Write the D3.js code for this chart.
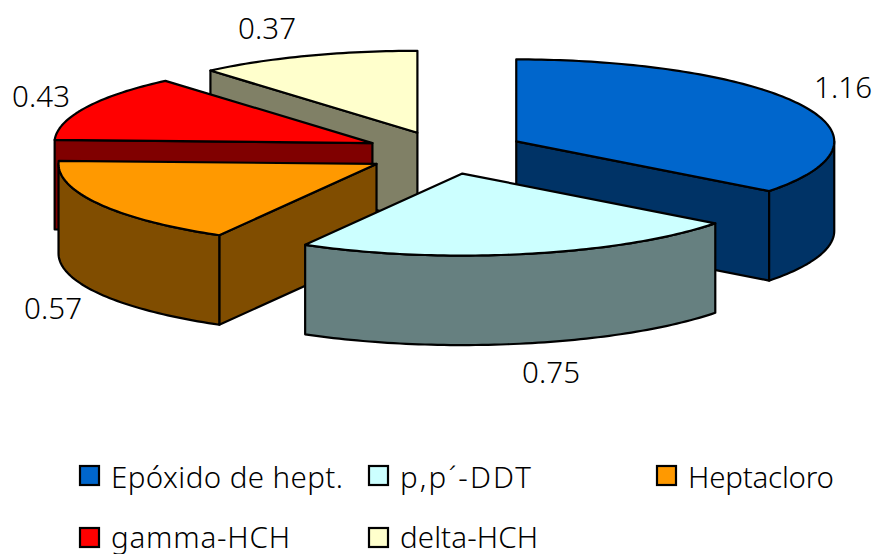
<!DOCTYPE html>
<html><head><meta charset="utf-8">
<script src="https://cdn.jsdelivr.net/npm/d3@7/dist/d3.min.js"></script>
<style>html,body{margin:0;padding:0;background:#fff;overflow:hidden}svg{display:block}
text{font-family:"Noto Sans","Liberation Sans",Arial,sans-serif;font-weight:300;fill:#000}</style></head>
<body><svg id="c" width="873" height="554"></svg>
<script>
const categories = ["Epóxido de hept.", "p,p´-DDT", "Heptacloro", "gamma-HCH", "delta-HCH"];
const values = [1.16, 0.75, 0.57, 0.43, 0.37];
const colors = ["#0066CC", "#CCFFFF", "#FF9900", "#FF0000", "#FFFFCC"];
const valueLabels = ["1.16", "0.75", "0.57", "0.43", "0.37"];

// layout
const W = 873, H = 554;
const cx = 445, cy = 152, rx = 318, ry = 82, depth = 89.5, explode = 0.25;
const nudge = [[0, -1.5], [1.5, 1.5], [1, 2], [-1, 0], [0, 0]];
const paintOrder = [4, 3, 2, 0, 1];
const labelPos = [[843, 98], [551, 383], [53, 319], [41, 107], [267, 39]];
const legendPos = [[79, 465], [368, 465], [656, 465], [79, 527], [368, 527]];
const legendBaseline = [487.5, 487.5, 487.5, 547.5, 547.5];
const legendWidth = [232, 131, 146, 179, 138];
const fontSize = 29.5;

const svg = d3.select("#c");
const arcs = d3.pie().sort(null).value(d => d)(values);
const line = d3.line();
const stroke = "#000", sw = 2.2;

function pt(c, a, dz = 0) {
  return [c[0] + rx * Math.sin(a), c[1] - ry * Math.cos(a) + dz];
}
function sample(c, a0, a1, dz = 0) {
  const n = Math.max(2, Math.ceil(Math.abs(a1 - a0) / 0.02));
  return d3.range(n + 1).map(i => pt(c, a0 + (a1 - a0) * i / n, dz));
}
function draw(pts, fill) {
  svg.append("path").attr("d", line(pts) + "Z").attr("fill", fill)
    .attr("stroke", stroke).attr("stroke-width", sw).attr("stroke-linejoin", "round");
}

paintOrder.forEach(i => {
  const d = arcs[i], a0 = d.startAngle, a1 = d.endAngle, mid = (a0 + a1) / 2;
  const c = [cx + explode * rx * Math.sin(mid) + nudge[i][0], cy - explode * ry * Math.cos(mid) + nudge[i][1]];
  const top = d3.rgb(colors[i]);
  const side = d3.rgb(top.r / 2, top.g / 2, top.b / 2).formatHex();
  const cut = a => {
    const p = pt(c, a);
    draw([c, p, [p[0], p[1] + depth], [c[0], c[1] + depth]], side);
  };
  if (Math.sin(a0) < -1e-6) cut(a0);
  if (Math.sin(a1) > 1e-6) cut(a1);
  const w0 = Math.max(a0, Math.PI / 2), w1 = Math.min(a1, 3 * Math.PI / 2);
  if (w1 > w0) {
    draw(sample(c, w0, w1).concat(sample(c, w1, w0, depth)), side);
  }
  draw([c].concat(sample(c, a0, a1)), colors[i]);
});

valueLabels.forEach((t, i) => {
  svg.append("text").attr("x", labelPos[i][0]).attr("y", labelPos[i][1])
    .attr("text-anchor", "middle").attr("font-size", fontSize)
    .attr("textLength", 58).attr("lengthAdjust", "spacing").text(t);
});

categories.forEach((t, i) => {
  const [x, y] = legendPos[i];
  svg.append("rect").attr("x", x + 1).attr("y", y + 1).attr("width", 19).attr("height", 19)
    .attr("fill", colors[i]).attr("stroke", "#000").attr("stroke-width", 2.2);
  svg.append("text").attr("x", x + 32).attr("y", legendBaseline[i]).attr("font-size", fontSize)
    .attr("textLength", legendWidth[i]).attr("lengthAdjust", "spacing").text(t);
});
</script></body></html>
